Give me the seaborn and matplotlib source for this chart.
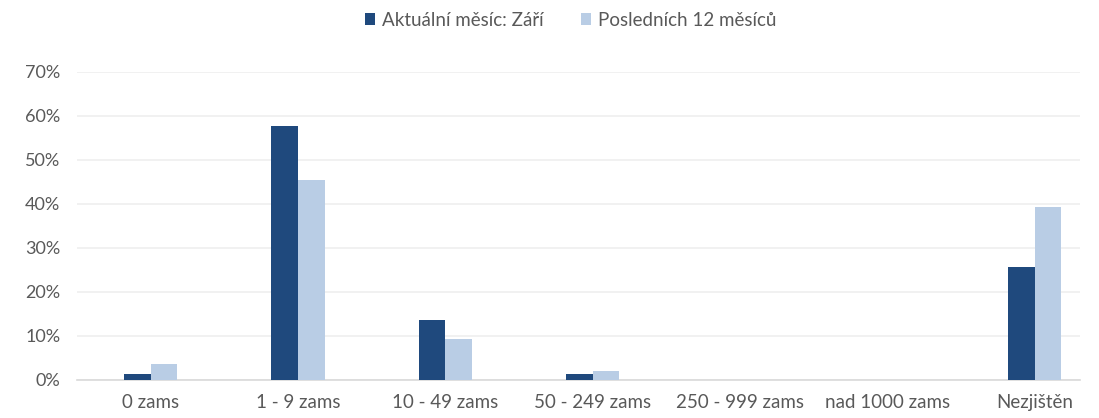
import pandas as pd
import numpy as np
import seaborn as sns
import matplotlib.pyplot as plt
from matplotlib.ticker import PercentFormatter

# Chart data
categories = ['0 zams', '1 - 9 zams', '10 - 49 zams', '50 - 249 zams',
              '250 - 999 zams', 'nad 1000 zams', 'Nezjištěn']
current_month = [1.4, 57.7, 13.6, 1.4, 0.0, 0.0, 25.7]
last_12_months = [3.6, 45.4, 9.2, 2.0, 0.0, 0.0, 39.3]
series_names = ['Aktuální měsíc: Září', 'Posledních 12 měsíců']

# Long format for seaborn
df = pd.DataFrame({
    'kategorie': categories * 2,
    'podil': current_month + last_12_months,
    'serie': [series_names[0]] * len(categories) + [series_names[1]] * len(categories),
})

sns.set_style('white')
plt.rcParams['font.family'] = ['Lato', 'DejaVu Sans']
text_color = '#595959'

fig = plt.figure(figsize=(10.99, 4.18), dpi=100)
ax = fig.add_axes([0.070, 0.091, 0.913, 0.737])

sns.barplot(data=df, x='kategorie', y='podil', hue='serie', order=categories,
            hue_order=series_names, palette=['#1F497D', '#B9CDE5'],
            width=0.363, saturation=1, linewidth=0, ax=ax, zorder=3)

ax.set_ylim(0, 70)
# the category slots run slightly past the right end of the grid in the original
ax.set_xlim(-0.5, 6.31)
ax.set_yticks(np.arange(0, 71, 10))
ax.yaxis.set_major_formatter(PercentFormatter(decimals=0))
ax.grid(axis='y', color='#EFEFEF', linewidth=1.2, zorder=0)
ax.set_xlabel('')
ax.set_ylabel('')

for side in ['top', 'right', 'left']:
    ax.spines[side].set_visible(False)
ax.spines['bottom'].set_color('#D9D9D9')
ax.spines['bottom'].set_linewidth(1.2)

ax.tick_params(axis='both', length=0, colors=text_color)
ax.tick_params(axis='x', labelsize=13.5, pad=10)
ax.tick_params(axis='y', labelsize=13, pad=12)

leg = ax.legend(loc='center', bbox_to_anchor=(0.519, 0.952), bbox_transform=fig.transFigure,
                ncol=2, frameon=False, fontsize=13.5, handlelength=0.55, handleheight=0.55,
                handletextpad=0.35, columnspacing=2.0)
for t in leg.get_texts():
    t.set_color(text_color)

fig.savefig('out.png', dpi=100)
